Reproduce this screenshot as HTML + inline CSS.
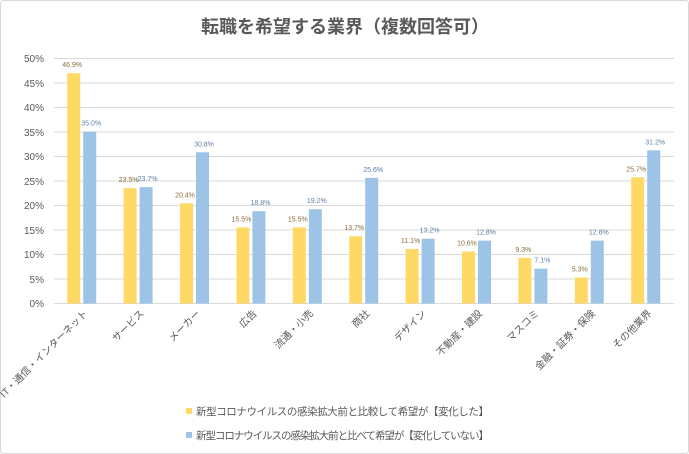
<!DOCTYPE html>
<html><head><meta charset="utf-8"><style>
html,body{margin:0;padding:0;background:#fff;}
svg{display:block;font-family:"Liberation Sans","Noto Sans CJK JP",sans-serif;}
</style></head><body>
<svg width="689" height="454" viewBox="0 0 689 454" xmlns="http://www.w3.org/2000/svg">
<rect x="0.5" y="0.5" width="688" height="453" rx="3" fill="#fff" stroke="#d9d9d9"/>
<text x="345" y="33" text-anchor="middle" font-size="18" font-weight="bold" fill="#595959">転職を希望する業界（複数回答可）</text>
<g stroke="#d9d9d9" stroke-width="1">
<line x1="54" x2="674" y1="58.5" y2="58.5"/><line x1="54" x2="674" y1="83" y2="83"/>
<line x1="54" x2="674" y1="107.5" y2="107.5"/><line x1="54" x2="674" y1="132" y2="132"/>
<line x1="54" x2="674" y1="156.5" y2="156.5"/><line x1="54" x2="674" y1="181" y2="181"/>
<line x1="54" x2="674" y1="205.5" y2="205.5"/><line x1="54" x2="674" y1="230" y2="230"/>
<line x1="54" x2="674" y1="254.5" y2="254.5"/><line x1="54" x2="674" y1="279" y2="279"/>
<line x1="54" x2="674" y1="303.5" y2="303.5"/>
</g>
<g font-size="10" fill="#595959" text-anchor="end">
<text x="44" y="62">50%</text><text x="44" y="87">45%</text><text x="44" y="111">40%</text>
<text x="44" y="136">35%</text><text x="44" y="160">30%</text><text x="44" y="185">25%</text>
<text x="44" y="209">20%</text><text x="44" y="234">15%</text><text x="44" y="258">10%</text>
<text x="44" y="283">5%</text><text x="44" y="307">0%</text>
</g>
<g id="bars"></g>
<g font-size="10" fill="#595959" id="xl"></g>
<g font-size="7" id="dl"></g>
<rect x="186" y="408" width="6" height="6" fill="#ffd966"/>
<text x="196" y="415" font-size="10.5" fill="#595959" textLength="293">新型コロナウイルスの感染拡大前と比較して希望が【変化した】</text>
<rect x="186" y="432" width="6" height="6" fill="#9dc3e6"/>
<text x="196" y="439" font-size="10.5" fill="#595959" textLength="293">新型コロナウイルスの感染拡大前と比べて希望が【変化していない】</text>
<script>
var cats=["IT・通信・インターネット","サービス","メーカー","広告","流通・小売","商社","デザイン","不動産・建設","マスコミ","金融・証券・保険","その他業界"];
var a=[46.9,23.5,20.4,15.5,15.5,13.7,11.1,10.6,9.3,5.3,25.7];
var b=[35.0,23.7,30.8,18.8,19.2,25.6,13.2,12.8,7.1,12.8,31.2];
var ns="http://www.w3.org/2000/svg";
function el(t,at,p,tx){var e=document.createElementNS(ns,t);for(var k in at)e.setAttribute(k,at[k]);if(tx)e.textContent=tx;document.getElementById(p).appendChild(e);}
for(var i=0;i<11;i++){
 var c=54+56.4*i+28.2;
 var ha=a[i]*4.91, hb=b[i]*4.91;
 el("rect",{x:c-15,y:303.5-ha,width:13,height:ha,fill:"#ffd966"},"bars");
 el("rect",{x:c+1,y:303.5-hb,width:13,height:hb,fill:"#9dc3e6"},"bars");
 el("text",{x:c-10,y:303.5-ha-6,"text-anchor":"middle",fill:"#8a6d3b"},"dl",a[i].toFixed(1)+"%");
 el("text",{x:c+9,y:303.5-hb-6,"text-anchor":"middle",fill:"#5b7fa6"},"dl",b[i].toFixed(1)+"%");
 el("text",{x:0,y:0,"text-anchor":"end",transform:"translate("+(c+6)+",314) rotate(-45)"},"xl",cats[i]);
}
</script>
</svg>
</body></html>
